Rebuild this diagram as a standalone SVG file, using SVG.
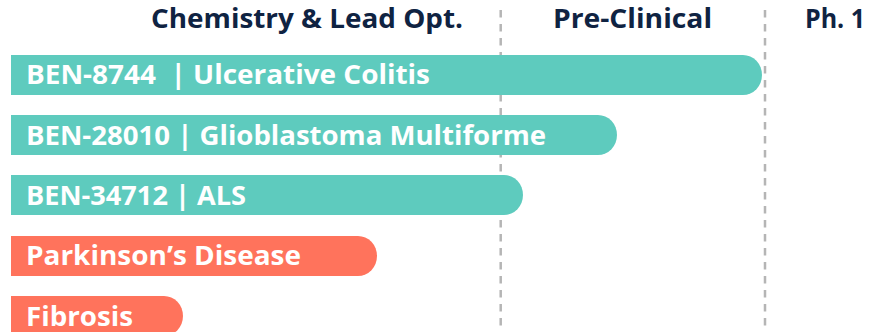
<svg xmlns="http://www.w3.org/2000/svg" width="880" height="332" viewBox="0 0 880 332">
<style>
.hdr{font-family:"Open Sans","Liberation Sans",sans-serif;font-weight:700;font-size:26px;fill:#0f2342}
.lbl{font-family:"Open Sans","Liberation Sans",sans-serif;font-weight:700;font-size:26px;fill:#ffffff}
.teal{fill:#5ecbbe}
.coral{fill:#ff735c}
.grid{stroke:#b5b5b5;stroke-width:2.5;stroke-dasharray:7.5 6.5;fill:none}
</style>
<rect width="880" height="332" fill="#ffffff"/>
<g id="connectors">
<line class="grid" x1="500.7" y1="10" x2="500.7" y2="332"/>
<line class="grid" x1="765" y1="10" x2="765" y2="332"/>
</g>
<g id="headers">
<text class="hdr" x="151" y="27.5" textLength="312" lengthAdjust="spacingAndGlyphs">Chemistry &amp; Lead Opt.</text>
<text class="hdr" x="553" y="27.5" textLength="159" lengthAdjust="spacingAndGlyphs">Pre-Clinical</text>
<text class="hdr" x="805" y="27.5" textLength="60" lengthAdjust="spacingAndGlyphs">Ph. 1</text>
</g>
<g id="bar1">
<path class="teal" d="M11 55 H743 A19 20 0 0 1 762 75 A19 20 0 0 1 743 95 H11 Z"/>
<text class="lbl" x="26" y="83.5" textLength="404" lengthAdjust="spacingAndGlyphs" xml:space="preserve">BEN-8744  | Ulcerative Colitis</text>
</g>
<g id="bar2">
<path class="teal" d="M11 115 H598 A19 20 0 0 1 617 135 A19 20 0 0 1 598 155 H11 Z"/>
<text class="lbl" x="26" y="144.5" textLength="520" lengthAdjust="spacingAndGlyphs">BEN-28010 | Glioblastoma Multiforme</text>
</g>
<g id="bar3">
<path class="teal" d="M11 175 H504 A19 20 0 0 1 523 195 A19 20 0 0 1 504 215 H11 Z"/>
<text class="lbl" x="26" y="204.5" textLength="220" lengthAdjust="spacingAndGlyphs">BEN-34712 | ALS</text>
</g>
<g id="bar4">
<path class="coral" d="M11 236 H358 A19 20 0 0 1 377 256 A19 20 0 0 1 358 276 H11 Z"/>
<text class="lbl" x="26" y="265" textLength="275" lengthAdjust="spacingAndGlyphs">Parkinson’s Disease</text>
</g>
<g id="bar5">
<path class="coral" d="M11 296 H164 A19 20 0 0 1 183 316 A19 20 0 0 1 164 336 H11 Z"/>
<text class="lbl" x="26" y="325.5" textLength="107" lengthAdjust="spacingAndGlyphs">Fibrosis</text>
</g>
</svg>
